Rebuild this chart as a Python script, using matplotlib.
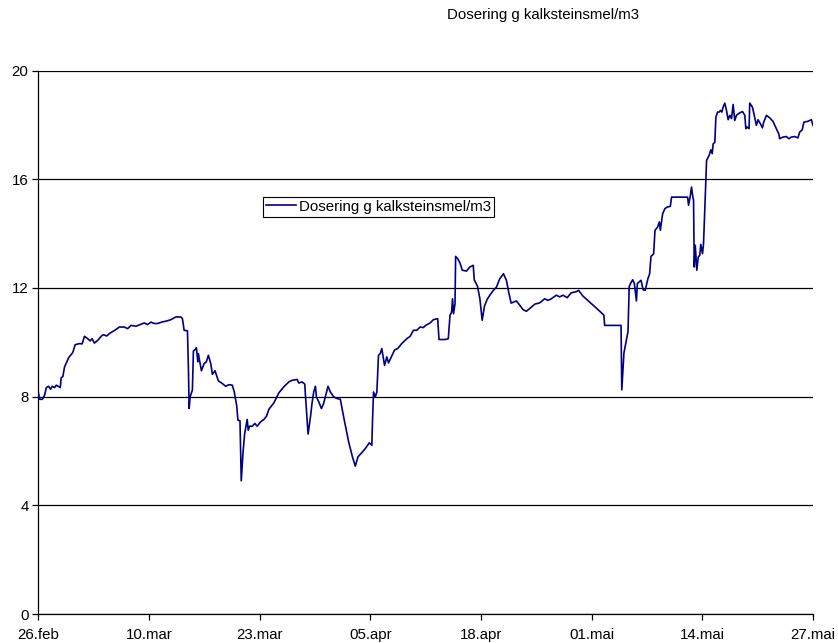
import matplotlib
matplotlib.use('Agg')
import matplotlib.pyplot as plt

plt.rcParams.update({'font.family': ['Liberation Sans', 'DejaVu Sans'], 'font.size': 10.8})

# days since 26.feb and dosage (g kalksteinsmel per m3)
days = [
    0.00, 0.15, 0.47, 0.74, 0.94, 1.21, 1.44, 1.64, 1.91, 2.11,
    2.58, 2.69, 2.88, 3.08, 3.58, 4.05, 4.33, 4.84, 5.15, 5.42,
    5.81, 6.09, 6.32, 6.59, 6.98, 7.38, 7.65, 8.03, 8.35, 9.13,
    9.52, 10.11, 10.49, 10.89, 11.48, 12.06, 12.45, 12.83, 13.23, 13.62,
    14.00, 14.59, 15.06, 15.57, 16.16, 16.74, 16.93, 17.13, 17.52, 17.63,
    17.72, 17.83, 18.10, 18.22, 18.42, 18.57, 18.74, 18.81, 18.97, 19.16,
    19.47, 19.74, 19.98, 20.26, 20.45, 20.76, 21.15, 21.62, 22.01, 22.40,
    22.79, 23.02, 23.30, 23.45, 23.69, 23.84, 24.04, 24.24, 24.54, 24.66,
    24.82, 25.13, 25.44, 25.71, 26.11, 26.50, 26.81, 27.08, 27.67, 28.26,
    28.84, 29.43, 29.81, 30.40, 30.60, 30.98, 31.30, 31.38, 31.69, 31.97,
    32.15, 32.35, 32.55, 32.67, 32.94, 33.26, 33.52, 33.79, 34.03, 34.31,
    34.70, 35.08, 35.48, 35.87, 36.45, 36.92, 37.24, 37.54, 38.01, 38.44,
    38.88, 39.18, 39.26, 39.38, 39.58, 39.77, 39.96, 40.16, 40.35, 40.67,
    40.94, 41.14, 41.52, 41.84, 42.22, 42.69, 43.28, 43.68, 44.06, 44.45,
    44.85, 45.23, 45.50, 46.02, 46.41, 46.91, 47.07, 47.78, 48.16, 48.36,
    48.55, 48.66, 48.78, 48.95, 49.02, 49.25, 49.53, 49.80, 50.30, 50.70,
    51.09, 51.21, 51.59, 51.87, 52.14, 52.41, 52.73, 53.08, 53.43, 53.82,
    54.21, 54.64, 54.99, 55.25, 55.54, 56.16, 56.56, 56.94, 57.33, 57.73,
    58.31, 58.90, 59.48, 59.87, 60.26, 60.84, 61.24, 61.63, 62.13, 62.60,
    63.19, 63.47, 63.97, 64.79, 65.61, 66.43, 66.53, 68.45, 68.54, 68.79,
    69.00, 69.27, 69.41, 69.63, 69.82, 70.02, 70.26, 70.37, 70.80, 71.05,
    71.29, 71.61, 71.81, 71.97, 72.28, 72.44, 72.75, 72.95, 73.07, 73.34,
    73.61, 73.92, 74.24, 74.39, 76.27, 76.38, 76.58, 76.73, 76.89, 76.97,
    77.05, 77.17, 77.35, 77.52, 77.70, 77.82, 78.02, 78.14, 78.50, 78.80,
    79.00, 79.16, 79.27, 79.47, 79.59, 79.79, 79.98, 80.14, 80.29, 80.44,
    80.64, 80.84, 81.03, 81.23, 81.43, 81.62, 81.81, 82.01, 82.32, 82.72,
    82.99, 83.11, 83.26, 83.49, 83.57, 83.89, 84.16, 84.35, 84.54, 84.82,
    85.06, 85.21, 85.53, 85.91, 86.30, 86.70, 87.00, 87.08, 87.47, 87.87,
    88.17, 88.45, 88.84, 89.23, 89.43, 89.74, 89.93, 90.40, 90.80, 91.00,
]
dosering = [
    8.17, 7.90, 7.90, 8.05, 8.33, 8.38, 8.27, 8.38, 8.33, 8.42,
    8.33, 8.70, 8.73, 9.09, 9.44, 9.62, 9.91, 9.95, 9.94, 10.22,
    10.13, 10.05, 10.13, 9.97, 10.07, 10.22, 10.28, 10.23, 10.32, 10.47,
    10.56, 10.56, 10.50, 10.62, 10.59, 10.66, 10.71, 10.65, 10.74, 10.69,
    10.69, 10.75, 10.78, 10.83, 10.93, 10.93, 10.87, 10.44, 10.42, 9.09,
    7.56, 7.99, 8.24, 9.68, 9.73, 9.80, 9.28, 9.58, 9.28, 8.95,
    9.21, 9.28, 9.52, 9.21, 8.82, 8.95, 8.58, 8.48, 8.38, 8.44,
    8.42, 8.17, 7.68, 7.13, 7.11, 4.90, 5.91, 6.64, 7.16, 6.76,
    6.91, 6.91, 7.01, 6.91, 7.07, 7.16, 7.28, 7.53, 7.77, 8.14,
    8.36, 8.54, 8.60, 8.63, 8.50, 8.54, 8.46, 8.05, 6.62, 7.25,
    7.75, 8.17, 8.38, 7.99, 7.81, 7.56, 7.75, 8.09, 8.38, 8.17,
    7.99, 7.93, 7.90, 7.25, 6.34, 5.76, 5.44, 5.78, 5.94, 6.10,
    6.30, 6.21, 7.13, 8.17, 7.99, 8.17, 9.52, 9.58, 9.77, 9.15,
    9.46, 9.24, 9.49, 9.71, 9.77, 9.95, 10.13, 10.22, 10.44, 10.44,
    10.56, 10.54, 10.62, 10.71, 10.83, 10.87, 10.10, 10.10, 10.13, 10.99,
    11.11, 11.60, 11.05, 11.42, 13.16, 13.08, 12.92, 12.65, 12.62, 12.77,
    12.83, 12.30, 12.06, 11.60, 10.81, 11.33, 11.58, 11.75, 11.90, 12.03,
    12.34, 12.52, 12.28, 11.85, 11.44, 11.52, 11.36, 11.20, 11.14, 11.24,
    11.40, 11.45, 11.60, 11.54, 11.60, 11.73, 11.67, 11.73, 11.64, 11.82,
    11.86, 11.91, 11.70, 11.47, 11.24, 11.00, 10.62, 10.62, 8.25, 9.60,
    9.95, 10.40, 12.05, 12.20, 12.30, 12.16, 11.52, 12.16, 12.28, 11.93,
    11.91, 12.34, 12.52, 13.16, 13.25, 14.12, 14.24, 14.43, 14.12, 14.73,
    14.92, 14.98, 15.00, 15.34, 15.34, 15.04, 15.37, 15.71, 15.34, 15.22,
    12.77, 13.57, 12.65, 13.14, 13.20, 13.60, 13.26, 13.62, 16.69, 16.88,
    17.08, 16.94, 17.30, 17.36, 18.28, 18.47, 18.47, 18.53, 18.47, 18.65,
    18.80, 18.53, 18.19, 18.35, 18.23, 18.75, 18.16, 18.35, 18.43, 18.49,
    18.35, 17.86, 17.92, 17.86, 18.80, 18.65, 18.26, 17.98, 18.19, 18.04,
    17.89, 18.10, 18.35, 18.26, 18.13, 17.86, 17.65, 17.49, 17.55, 17.57,
    17.49, 17.55, 17.57, 17.52, 17.73, 17.82, 18.10, 18.13, 18.19, 17.98,
]

tick_days = [0, 13, 26, 39, 52, 65, 78, 91]
tick_labels = ['26.feb', '10.mar', '23.mar', '05.apr', '18.apr', '01.mai', '14.mai', '27.mai']
y_ticks = [0, 4, 8, 12, 16, 20]
label = 'Dosering g kalksteinsmel/m3'

fig = plt.figure(figsize=(8.38, 6.43), dpi=100)
ax = fig.add_axes([38.3 / 838, 29 / 643, (813 - 38.3) / 838, (614 - 70.5) / 643])

ax.plot(days, dosering, color='#000080', lw=1.2, label=label, zorder=3)

ax.set_xlim(0, 91)
ax.set_ylim(0, 20)
ax.set_xticks(tick_days)
ax.set_xticklabels(tick_labels)
ax.set_yticks(y_ticks)
ax.yaxis.grid(True, color='black', lw=0.9)
ax.set_axisbelow(True)

for s in ('top', 'right'):
    ax.spines[s].set_visible(False)
for s in ('left', 'bottom'):
    ax.spines[s].set_color('black')
    ax.spines[s].set_linewidth(0.9)
ax.tick_params(axis='both', direction='out', length=4, width=0.9, colors='black', labelsize=10.8)
ax.tick_params(axis='x', pad=6)
ax.tick_params(axis='y', pad=3)

leg = ax.legend(loc='upper left', bbox_to_anchor=(262.7 / 838, 1 - 196.7 / 643),
                bbox_transform=fig.transFigure, fancybox=False, framealpha=1,
                edgecolor='black', handlelength=2.0, handletextpad=0.25,
                borderpad=0.2, borderaxespad=0, fontsize=10.8)
leg.get_frame().set_linewidth(0.8)

fig.text(543 / 838, 1 - 15 / 643, label, ha='center', va='center', fontsize=10.8)

fig.savefig('out.png', dpi=100)
